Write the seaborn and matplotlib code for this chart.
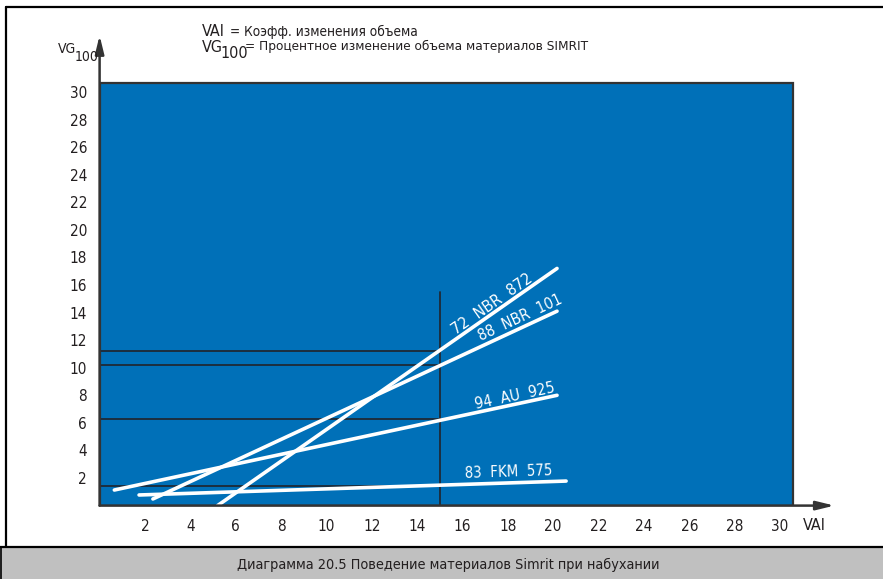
import matplotlib
matplotlib.use("Agg")
import matplotlib.pyplot as plt
import matplotlib.font_manager as fm
import numpy as np
import pandas as pd
import seaborn as sns
from matplotlib.patches import Rectangle
from matplotlib.font_manager import FontProperties

# ---------------- data ----------------
materials = ["72 NBR 872", "88 NBR 101", "94 AU 925", "83 FKM 575"]
x_start = [5.2, 2.35, 0.65, 1.74]
y_start = [0.0, 0.48, 1.13, 0.77]
x_end = [20.17, 20.17, 20.17, 20.57]
y_end = [17.2, 14.1, 8.0, 1.78]

ref_x = 15.0                      # vertical reading line (VAI)
ref_x_top = 15.5
ref_y = [11.2, 10.2, 6.3, 1.45]   # horizontal reading lines (VG100)

x_ticks = list(range(2, 31, 2))
y_ticks = list(range(2, 31, 2))

label_x = [17.3, 18.55, 18.3, 18.05]
label_y = [14.6, 13.6, 7.95, 2.45]

title_text = "Диаграмма 20.5 Поведение материалов Simrit при набухании"
legend_vai = "= Коэфф. изменения объема"
legend_vg = "= Процентное изменение объема материалов SIMRIT"

# ---------------- style ----------------
sns.set_theme(style="white")
plt.rcParams["font.family"] = ["Liberation Sans", "DejaVu Sans"]


def find_font(bold=False):
    best = None
    for f in fm.fontManager.ttflist:
        nm = (f.name + " " + f.fname).lower()
        cond = ("narrow" in nm or "condensed" in nm or
                str(f.stretch).endswith("condensed"))
        if not cond or f.style != "normal":
            continue
        w = f.weight if isinstance(f.weight, int) else (700 if "bold" in str(f.weight) else 400)
        if bold != (w >= 600):
            continue
        if "mono" in nm or ("serif" in nm and "sans" not in nm):
            continue
        best = f
        break
    if best is None:
        return None
    return FontProperties(fname=best.fname)


FP = find_font(False)
if FP is None:
    FP = FontProperties(family=["Liberation Sans", "DejaVu Sans"])

BLUE = "#0070b8"
DARK = "#333333"
TXT = "#231f20"

W, H = 883, 579
fig = plt.figure(figsize=(W / 100, H / 100), dpi=100)
fig.patch.set_facecolor("white")
renderer = fig.canvas.get_renderer()


def fit(t, width_px, max_size=14):
    """Rescale a text so that its rendered width matches the reference."""
    fp = t.get_fontproperties().copy()
    fp.set_size(max_size)
    t.set_fontproperties(fp)
    w = t.get_window_extent(renderer).width
    fp = fp.copy()
    fp.set_size(min(max_size, max_size * width_px / w))
    t.set_fontproperties(fp)
    return t


def ftext(x, y, s, fp=FP, size=None, **kw):
    p = fp.copy()
    if size:
        p.set_size(size)
    return fig.text(x / W, 1 - y / H, s, fontproperties=p, **kw)


ax = fig.add_axes([99.6 / W, 73.4 / H, 734.8 / W, 470.2 / H])
ax.set_xlim(0, 32.4)
ax.set_ylim(0, 34.1)
ax.set_facecolor("none")
for s in ax.spines.values():
    s.set_visible(False)

# blue field
ax.add_patch(Rectangle((0, 0), 30.57, 30.65, facecolor=BLUE,
                       edgecolor=DARK, lw=1.6, zorder=1))

# axis arrows
arrow = dict(arrowstyle="-|>,head_length=0.9,head_width=0.22", color=DARK,
             lw=1.8, shrinkA=0, shrinkB=0)
ax.annotate("", xy=(1, 0), xytext=(0, 0), xycoords="axes fraction",
            textcoords="axes fraction", arrowprops=arrow, zorder=5)
ax.annotate("", xy=(0, 1), xytext=(0, 0), xycoords="axes fraction",
            textcoords="axes fraction", arrowprops=arrow, zorder=5)

# reading lines
ax.plot([ref_x, ref_x], [0, ref_x_top], color="#1f2a36", lw=1.3, zorder=2)
for yv in ref_y:
    ax.plot([0, ref_x], [yv, yv], color="#1f2a36", lw=1.3, zorder=2)

# material lines via seaborn
rows = []
for m, xs, ys, xe, ye in zip(materials, x_start, y_start, x_end, y_end):
    rows.append({"material": m, "VAI": xs, "VG100": ys})
    rows.append({"material": m, "VAI": xe, "VG100": ye})
df = pd.DataFrame(rows)
sns.lineplot(data=df, x="VAI", y="VG100", units="material", estimator=None,
             color="white", lw=2.6, ax=ax, zorder=3, legend=False)
ax.set_xlabel("")
ax.set_ylabel("")

# labels along lines
label_w = [95, 92, 82, 88]
for m, xs, ys, xe, ye, lx, ly, lw_ in zip(materials, x_start, y_start, x_end,
                                          y_end, label_x, label_y, label_w):
    p0 = ax.transData.transform((xs, ys))
    p1 = ax.transData.transform((xe, ye))
    ang = np.degrees(np.arctan2(p1[1] - p0[1], p1[0] - p0[0]))
    t = ax.text(lx, ly, m.replace(" ", "  "), color="white",
                fontproperties=FP.copy(), rotation=0,
                rotation_mode="anchor", ha="center", va="center", zorder=4)
    fit(t, lw_, 14)
    t.set_rotation(ang)

# ticks
ax.set_xticks(x_ticks)
ax.set_yticks(y_ticks)
tfp = FP.copy()
tfp.set_size(11)
ax.set_xticklabels([str(v) for v in x_ticks], fontproperties=tfp)
ax.set_yticklabels([str(v) for v in y_ticks], fontproperties=tfp)
ax.tick_params(axis="both", length=0, colors=TXT)
ax.tick_params(axis="x", pad=10)
ax.tick_params(axis="y", pad=9)
ax.grid(False)

# axis names
ftext(803, 525, "VAI", size=11.5, color=TXT, ha="left", va="center")
ftext(58, 49, "VG", size=10, color=TXT, ha="left", va="center")
ftext(75, 57, "100", size=10, color=TXT, ha="left", va="center")

# legend at top
ftext(202, 31, "VAI", size=11.5, color=TXT, ha="left", va="center")
t = ftext(230, 32, legend_vai, color=TXT, ha="left", va="center")
fit(t, 188, 12)
ftext(202, 47, "VG", size=11.5, color=TXT, ha="left", va="center")
ftext(220, 54, "100", size=11.5, color=TXT, ha="left", va="center")
t = ftext(245, 46, legend_vg, color=TXT, ha="left", va="center")
fit(t, 342, 12)

# frame and caption band
fig.add_artist(plt.Line2D([6 / W, 6 / W], [1 - 7 / H, 1 - 546 / H],
                          color="black", lw=1.6, transform=fig.transFigure))
fig.add_artist(plt.Line2D([6 / W, 1], [1 - 7 / H, 1 - 7 / H],
                          color="black", lw=1.6, transform=fig.transFigure))
fig.add_artist(Rectangle((0, 0), 1, 32 / H, facecolor="#c0c0c0",
                         edgecolor="none", transform=fig.transFigure))
fig.add_artist(plt.Line2D([0, 1], [32 / H, 32 / H], color="black", lw=1.6,
                          transform=fig.transFigure))
fig.add_artist(plt.Line2D([1 / W, 1 / W], [0, 32 / H], color="black", lw=1.2,
                          transform=fig.transFigure))
t = ftext(448, 565, title_text, color=TXT, ha="center", va="center")
fit(t, 425, 13)

fig.savefig("out.png", dpi=100)
